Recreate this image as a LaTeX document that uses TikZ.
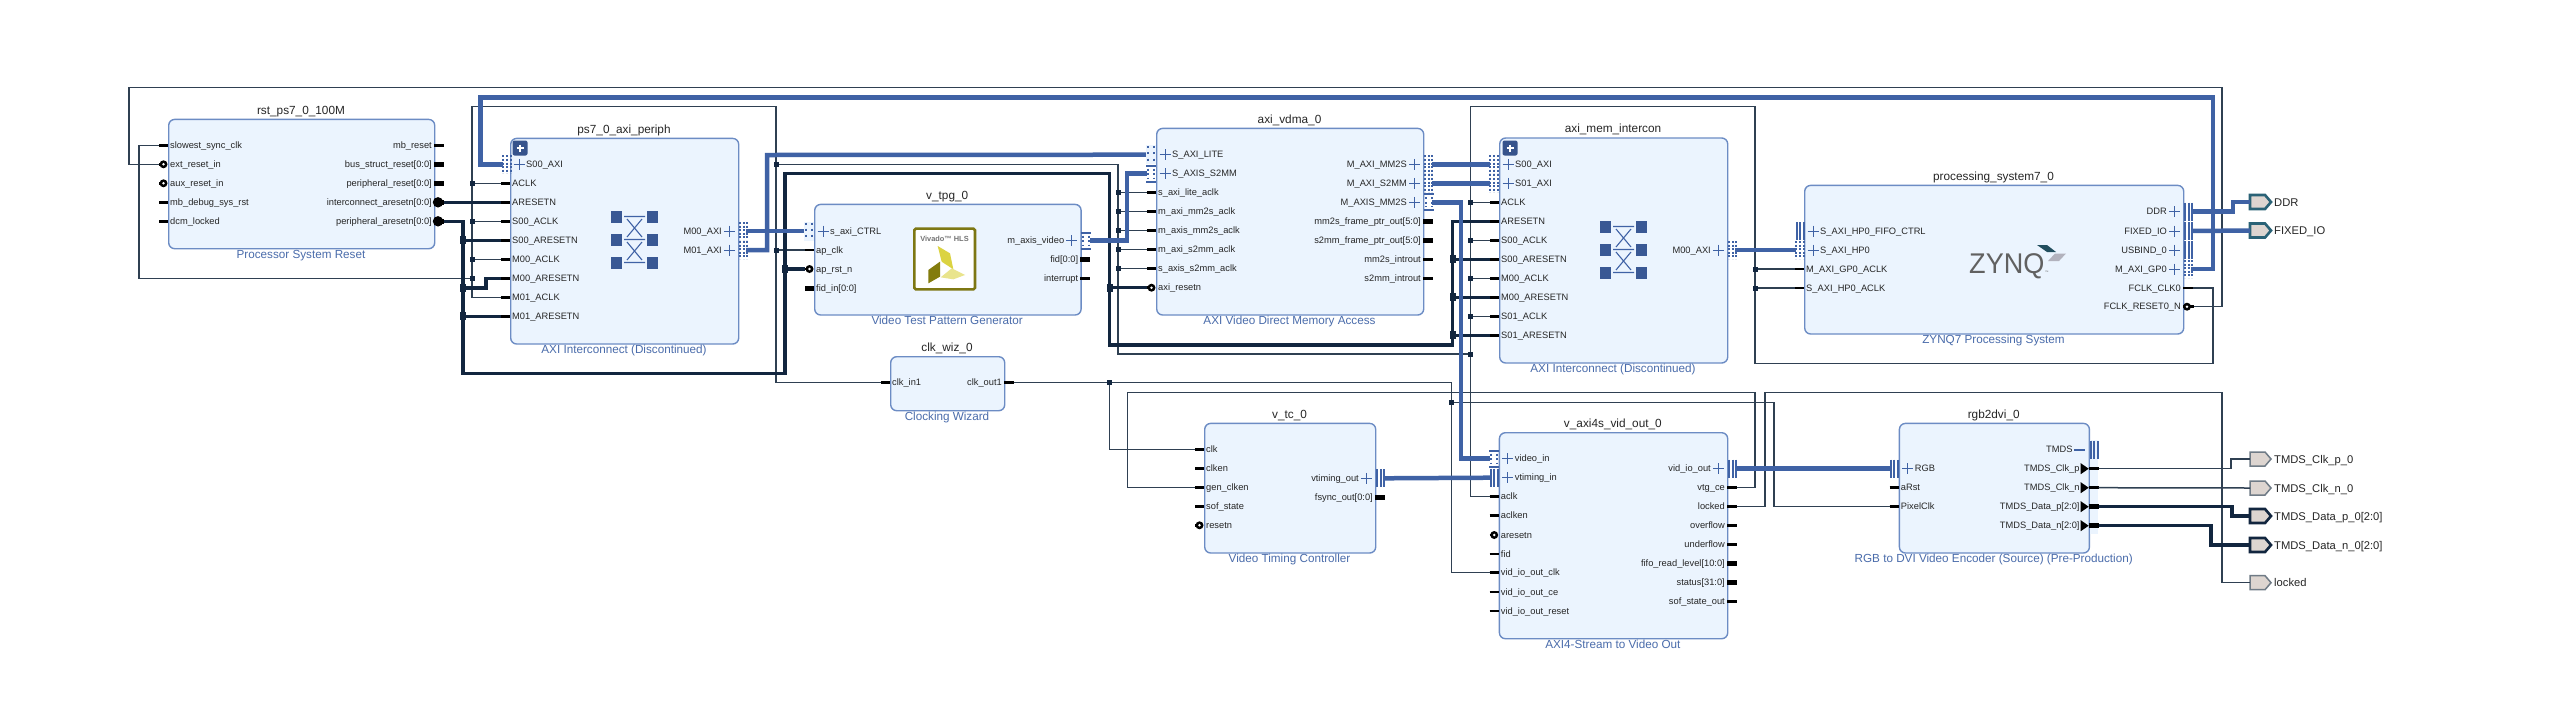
\documentclass[tikz,border=0pt]{standalone}
\usepackage{fontspec}
\setmainfont{Liberation Sans}
\usepackage{graphicx}
\definecolor{blkfill}{HTML}{EBF4FE}
\definecolor{blkline}{HTML}{6C8CC4}
\definecolor{subcol}{HTML}{4A6CAB}
\definecolor{buscol}{HTML}{3F62A5}
\definecolor{wirecol}{HTML}{2F4052}
\definecolor{rstcol}{HTML}{12263F}
\definecolor{extfill}{HTML}{DDD5D0}
\definecolor{teal}{HTML}{2A6276}
\definecolor{extgrey}{HTML}{6F7B86}
\tikzset{
 x=1pt,y=-1pt,
 wirepath/.style={draw=wirecol,line width=1.5pt},
 rstpath/.style={draw=rstcol,line width=3.4pt},
 buspath/.style={draw=buscol,line width=4.5pt},
 blockbox/.style={draw=blkline,fill=blkfill,line width=1.4pt,rounded corners=6pt,inner sep=0pt,anchor=north west},
 plabel/.style={inner sep=0pt,font=\fontsize{9.3}{10}\selectfont,text=black!85},
 titlelabel/.style={inner sep=0pt,font=\fontsize{11.8}{13}\selectfont,text=black!85,anchor=base},
 sublabel/.style={inner sep=0pt,font=\fontsize{11.7}{13}\selectfont,text=subcol,anchor=base},
 extlabel/.style={inner sep=0pt,font=\fontsize{11.2}{13}\selectfont,text=black!85,anchor=base west},
 jsmall/.style={fill=rstcol,draw=none,minimum size=5pt,inner sep=0pt},
 jbig/.style={fill=rstcol,draw=none,minimum width=6pt,minimum height=8pt,inner sep=0pt},
 stubline/.style={draw=black,line width=2.6pt},
 stubvec/.style={draw=black,line width=5pt},
}
% name x0 y0 x1 y1 title subtitle
\newcommand{\blockdraw}[7]{%
 \node[blockbox,minimum width={(#4-#2)*1pt},minimum height={(#5-#3)*1pt}] (#1) at (#2,#3) {};
 \node[titlelabel] (#1T) at ({(#2+#4)/2},{#3-4.5}) {#6};
 \node[sublabel] (#1S) at ({(#2+#4)/2},{#5+10}) {#7};
}
% plain ports: name edge y label
\newcommand{\pL}[4]{\coordinate (#1) at ({#2-9},#3);\draw[stubline] (#1)--(#2,#3);
 \node[plabel,anchor=base west] (#1t) at ({#2+2},{#3+3.2}) {#4};}
\newcommand{\pLv}[4]{\coordinate (#1) at ({#2-9},#3);\draw[stubvec] (#1)--(#2,#3);
 \node[plabel,anchor=base west] (#1t) at ({#2+2},{#3+3.2}) {#4};}
\newcommand{\pLb}[4]{\coordinate (#1) at ({#2-9},#3);\draw[stubline] (#1)--({#2-4},#3);
 \fill[black] ({#2-4.5},#3) circle (4pt);\fill[white] ({#2-4.5},#3) circle (1.4pt);
 \node[plabel,anchor=base west] (#1t) at ({#2+2},{#3+3.2}) {#4};}
\newcommand{\pR}[4]{\coordinate (#1) at ({#2+10},#3);\draw[stubline] (#2,#3)--(#1);
 \node[plabel,anchor=base east] (#1t) at ({#2-2},{#3+3.2}) {#4};}
\newcommand{\pRv}[4]{\coordinate (#1) at ({#2+10},#3);\draw[stubvec] (#2,#3)--(#1);
 \node[plabel,anchor=base east] (#1t) at ({#2-2},{#3+3.2}) {#4};}
\newcommand{\pRd}[4]{\coordinate (#1) at ({#2+10},#3);\draw[stubvec] (#2,#3)--(#1);
 \fill[black] ({#2+4},#3) circle (5.2pt);
 \node[plabel,anchor=base east] (#1t) at ({#2-2},{#3+3.2}) {#4};}
\newcommand{\pRb}[4]{\coordinate (#1) at ({#2+11},#3);\draw[stubline] (#2,#3)--(#1);
 \fill[black] ({#2+4},#3) circle (4pt);\fill[white] ({#2+4},#3) circle (1.4pt);
 \node[plabel,anchor=base east] (#1t) at ({#2-2},{#3+3.2}) {#4};}
% output triangle inside the block edge, thin or vector stub
\newcommand{\pRa}[5]{\coordinate (#1) at ({#2+10},#3);
 \fill[black] ({#2-8},{#3-5.5})--(#2,#3)--({#2-8},{#3+5.5})--cycle;
 \draw[#5] (#2,#3)--(#1);
 \node[plabel,anchor=base east] (#1t) at ({#2-9},{#3+3.2}) {#4};}
% bus pins with plus sign
\newcommand{\bL}[4]{\draw[draw=buscol,line width=1pt] ({#2+3.5},#3)--({#2+14.5},#3) ({#2+9},{#3-5.5})--({#2+9},{#3+5.5});
 \node[plabel,anchor=base west] (#1t) at ({#2+16},{#3+3.2}) {#4};}
\newcommand{\bR}[4]{\draw[draw=buscol,line width=1pt] ({#2-3.5},#3)--({#2-14.5},#3) ({#2-9},{#3-5.5})--({#2-9},{#3+5.5});
 \node[plabel,anchor=base east] (#1t) at ({#2-16},{#3+3.2}) {#4};}
% bus connectors: left edge x, y
\newcommand{\cDots}[2]{\foreach \ox in {1.2,5,8.8}{\draw[draw=buscol,line width=2pt,dash pattern=on 2pt off 1.6pt] ({#1+\ox},{#2-9})--({#1+\ox},{#2+9});}}
\newcommand{\cWide}[2]{\fill[blkfill] (#1,{#2-9.5}) rectangle ({#1+10},{#2+9.5});
 \foreach \ox in {2,8}{\draw[draw=buscol,line width=2pt,dash pattern=on 2pt off 4.2pt] ({#1+\ox},{#2-8.5})--({#1+\ox},{#2+9});}}
\newcommand{\cBars}[2]{\foreach \ox in {1.5,5,8.5}{\draw[draw=buscol,line width=2pt] ({#1+\ox},{#2-9})--({#1+\ox},{#2+9});}}
\newcommand{\cAxis}[2]{\draw[draw=buscol,line width=2pt] (#1,{#2-8})--({#1+10},{#2-8}) (#1,{#2+8})--({#1+10},{#2+8});
 \foreach \ox in {2,8}{\draw[draw=buscol,line width=2pt,dash pattern=on 2pt off 2.5pt] ({#1+\ox},{#2-5})--({#1+\ox},{#2+5});}}
% interconnect glyph
\newcommand{\xglyph}[2]{%
 \foreach \ox in {0,36}{\foreach \oy in {0,23,46}{\fill[buscol!90!black] ({#1+\ox},{#2+\oy}) rectangle ({#1+\ox+11},{#2+\oy+11.5});}}
 \draw[draw=buscol,line width=1.1pt]
  ({#1+13},{#2+5.5})--({#1+34},{#2+5.5}) ({#1+13},{#2+28.5})--({#1+34},{#2+28.5}) ({#1+13},{#2+51.5})--({#1+34},{#2+51.5})
  ({#1+16},{#2+8})--({#1+31},{#2+26}) ({#1+31},{#2+8})--({#1+16},{#2+26})
  ({#1+16},{#2+31})--({#1+31},{#2+49}) ({#1+31},{#2+31})--({#1+16},{#2+49});}
% expand button
\newcommand{\plusbtn}[2]{\fill[buscol!85!black,rounded corners=2pt] ({#1-7.5},{#2-7.5}) rectangle ({#1+7.5},{#2+7.5});
 \draw[white,line width=1.6pt] ({#1-3.5},#2)--({#1+3.5},#2) (#1,{#2-3.5})--(#1,{#2+3.5});}
% external pin: name x y label colour width
\newcommand{\extpin}[6]{\coordinate (#1) at (#2,#3);
 \draw[draw=#5,fill=extfill,line width=#6] (#2,{#3-7})--({#2+15},{#3-7})--({#2+21},#3)--({#2+15},{#3+7})--(#2,{#3+7})--cycle;
 \node[extlabel] (#1t) at ({#2+24},{#3+4}) {#4};}
\begin{document}
\begin{tikzpicture}
\useasboundingbox (0,0) rectangle (2550,724);
\fill[white] (0,0) rectangle (2550,724);
% ---- blocks
\blockdraw{rst}{168}{118.7}{434}{248}{rst\_ps7\_0\_100M}{Processor System Reset}
\blockdraw{per}{510}{137.7}{738}{343.3}{ps7\_0\_axi\_periph}{AXI Interconnect (Discontinued)}
\blockdraw{tpg}{814}{203.7}{1080.4}{314.3}{v\_tpg\_0}{Video Test Pattern Generator}
\blockdraw{vdma}{1156}{127.7}{1423}{314.3}{axi\_vdma\_0}{AXI Video Direct Memory Access}
\blockdraw{mem}{1499}{137.3}{1727}{362.3}{axi\_mem\_intercon}{AXI Interconnect (Discontinued)}
\blockdraw{ps}{1804}{184.7}{2183}{333.3}{processing\_system7\_0}{ZYNQ7 Processing System}
\blockdraw{wiz}{890}{356}{1004}{410}{clk\_wiz\_0}{Clocking Wizard}
\blockdraw{vtc}{1204}{422.7}{1375}{552.3}{v\_tc\_0}{Video Timing Controller}
\blockdraw{vout}{1498.7}{432}{1727}{638}{v\_axi4s\_vid\_out\_0}{AXI4-Stream to Video Out}
\blockdraw{rgb}{1898.7}{422.7}{2088.7}{552.3}{rgb2dvi\_0}{RGB to DVI Video Encoder (Source) (Pre-Production)}
\fill[blkfill] (2089.5,440) rectangle (2098,534);
% ---- glyphs
\plusbtn{520}{148}
\plusbtn{1510}{148}
\xglyph{611}{211}
\xglyph{1600}{221}
% Vivado HLS logo
\begin{scope}[shift={(900,220)},x=0.3333pt,y=-0.3333pt]
 \draw[draw=olive!85!black,fill=white,line width=2.6pt,rounded corners=1.5pt] (43,26) rectangle (225,208);
 \fill[yellow!55!olive!70!white] (113,78)--(150,100)--(160,148)--(125,125)--cycle;
 \fill[olive!90!black] (85,150)--(120,125)--(120,170)--(85,190)--cycle;
 \fill[yellow!50!olive!40!white] (122,172)--(155,145)--(195,165)--(160,178)--cycle;
\end{scope}
\node[inner sep=0pt,font=\fontsize{7.4}{8}\selectfont\bfseries,text=black!55] (hlstext) at (944.5,238.5) {Vivado™ HLS};
% ZYNQ logo
\node[inner sep=0pt,anchor=base west,font=\fontsize{28.5}{30}\selectfont,text=black!62] (zynqtext) at (1969,273) {\scalebox{0.95}[1]{ZYNQ}};
\node[inner sep=0pt,anchor=base west,font=\fontsize{3.5}{4}\selectfont,text=black!62] (zynqtm) at (2045,273.5) {™};
\fill[teal!80!black] (2037,245)--(2047,245)--(2056,252)--(2047,252)--cycle;
\fill[black!20!blue!10!gray!55] (2048,261)--(2055,253.5)--(2066,253.5)--(2059,261)--cycle;
% ---- ports
\pL{rclk}{168}{145.3}{slowest\_sync\_clk}
\pLb{rext}{168}{164.3}{ext\_reset\_in}
\pLb{raux}{168}{183.3}{aux\_reset\_in}
\pL{rdbg}{168}{202.3}{mb\_debug\_sys\_rst}
\pL{rdcm}{168}{221.3}{dcm\_locked}
\pR{rmb}{434}{145.3}{mb\_reset}
\pRv{rbus}{434}{164.3}{bus\_struct\_reset[0:0]}
\pRv{rper}{434}{183.3}{peripheral\_reset[0:0]}
\pRd{rica}{434}{202.3}{interconnect\_aresetn[0:0]}
\pRd{rpea}{434}{221.3}{peripheral\_aresetn[0:0]}
%
\bL{pS}{510}{164.3}{S00\_AXI}
\coordinate (pSb) at (503,164.3);
\pL{paclk}{510}{183.3}{ACLK}
\pL{pares}{510}{202.3}{ARESETN}
\pL{ps0clk}{510}{221.3}{S00\_ACLK}
\pL{ps0res}{510}{240.3}{S00\_ARESETN}
\pL{pm0clk}{510}{259.3}{M00\_ACLK}
\pL{pm0res}{510}{278.3}{M00\_ARESETN}
\pL{pm1clk}{510}{297.3}{M01\_ACLK}
\pL{pm1res}{510}{316.3}{M01\_ARESETN}
\bR{pM0}{738}{231}{M00\_AXI}
\bR{pM1}{738}{250}{M01\_AXI}
\coordinate (pM0b) at (746,231);
\coordinate (pM1b) at (746,250);
%
\bL{tS}{814}{231}{s\_axi\_CTRL}
\coordinate (tSb) at (806,231);
\pL{tclk}{814}{250}{ap\_clk}
\pLb{trst}{814}{269}{ap\_rst\_n}
\pLv{tfid}{814}{288}{fid\_in[0:0]}
\bR{tM}{1080.4}{240.7}{m\_axis\_video}
\coordinate (tMb) at (1090,240.7);
\pRv{tfo}{1080.4}{259.7}{fid[0:0]}
\pR{tint}{1080.4}{278.7}{interrupt}
%
\bL{vL}{1156}{154.7}{S\_AXI\_LITE}
\bL{vA}{1156}{173.7}{S\_AXIS\_S2MM}
\coordinate (vLb) at (1147,154.7);
\coordinate (vAb) at (1147,173.7);
\pL{vc1}{1156}{192.7}{s\_axi\_lite\_aclk}
\pL{vc2}{1156}{211.7}{m\_axi\_mm2s\_aclk}
\pL{vc3}{1156}{230.7}{m\_axis\_mm2s\_aclk}
\pL{vc4}{1156}{249.7}{m\_axi\_s2mm\_aclk}
\pL{vc5}{1156}{268.7}{s\_axis\_s2mm\_aclk}
\pLb{vrst}{1156}{287.7}{axi\_resetn}
\bR{vMa}{1423}{164.3}{M\_AXI\_MM2S}
\bR{vMb}{1423}{183.3}{M\_AXI\_S2MM}
\bR{vMc}{1423}{202.3}{M\_AXIS\_MM2S}
\coordinate (vMab) at (1432,164.3);
\coordinate (vMbb) at (1432,183.3);
\coordinate (vMcb) at (1432,202.3);
\pRv{vf1}{1423}{221.3}{mm2s\_frame\_ptr\_out[5:0]}
\pRv{vf2}{1423}{240.3}{s2mm\_frame\_ptr\_out[5:0]}
\pR{vi1}{1423}{259.3}{mm2s\_introut}
\pR{vi2}{1423}{278.3}{s2mm\_introut}
%
\bL{mS0}{1499}{164.3}{S00\_AXI}
\bL{mS1}{1499}{183.3}{S01\_AXI}
\coordinate (mS0b) at (1490,164.3);
\coordinate (mS1b) at (1490,183.3);
\pL{maclk}{1499}{202.3}{ACLK}
\pL{mares}{1499}{221.3}{ARESETN}
\pL{ms0clk}{1499}{240.3}{S00\_ACLK}
\pL{ms0res}{1499}{259.3}{S00\_ARESETN}
\pL{mm0clk}{1499}{278.3}{M00\_ACLK}
\pL{mm0res}{1499}{297.3}{M00\_ARESETN}
\pL{ms1clk}{1499}{316.3}{S01\_ACLK}
\pL{ms1res}{1499}{335.3}{S01\_ARESETN}
\bR{mM}{1727}{250}{M00\_AXI}
\coordinate (mMb) at (1735,250);
%
\bL{zF}{1804}{231}{S\_AXI\_HP0\_FIFO\_CTRL}
\bL{zH}{1804}{250}{S\_AXI\_HP0}
\coordinate (zHb) at (1796,250);
\pL{zgclk}{1804}{269}{M\_AXI\_GP0\_ACLK}
\pL{zhclk}{1804}{288}{S\_AXI\_HP0\_ACLK}
\bR{zD}{2183}{211.7}{DDR}
\bR{zX}{2183}{231}{FIXED\_IO}
\bR{zU}{2183}{250}{USBIND\_0}
\bR{zG}{2183}{269}{M\_AXI\_GP0}
\coordinate (zDb) at (2191,211.7);
\coordinate (zXb) at (2191,231);
\coordinate (zGb) at (2191,269);
\pR{zclk}{2183}{288}{FCLK\_CLK0}
\pRb{zrst}{2183}{306.7}{FCLK\_RESET0\_N}
%
\pL{wi}{890}{382.7}{clk\_in1}
\pR{wo}{1004}{382.7}{clk\_out1}
%
\pL{cclk}{1204}{449.3}{clk}
\pL{ccen}{1204}{468.3}{clken}
\pL{cgen}{1204}{487.3}{gen\_clken}
\pL{csof}{1204}{506.3}{sof\_state}
\pLb{crst}{1204}{525.3}{resetn}
\bR{cT}{1375}{478.3}{vtiming\_out}
\coordinate (cTb) at (1383,478.3);
\pRv{cfs}{1375}{497.3}{fsync\_out[0:0]}
%
\bL{oV}{1498.7}{458.7}{video\_in}
\bL{oT}{1498.7}{477.7}{vtiming\_in}
\coordinate (oVb) at (1490,458.7);
\coordinate (oTb) at (1490,477.7);
\pL{oclk}{1498.7}{496.7}{aclk}
\pL{ocen}{1498.7}{515.7}{aclken}
\pLb{orst}{1498.7}{535}{aresetn}
\pL{ofid}{1498.7}{554}{fid}
\pL{ovc}{1498.7}{572.7}{vid\_io\_out\_clk}
\pL{ove}{1498.7}{592}{vid\_io\_out\_ce}
\pL{ovr}{1498.7}{611}{vid\_io\_out\_reset}
\bR{oM}{1727}{468.7}{vid\_io\_out}
\coordinate (oMb) at (1735,468.7);
\pR{ovtg}{1727}{487.7}{vtg\_ce}
\pR{olock}{1727}{506.7}{locked}
\pR{oof}{1727}{525.7}{overflow}
\pR{ouf}{1727}{544.7}{underflow}
\pRv{ofl}{1727}{563.7}{fifo\_read\_level[10:0]}
\pRv{ost}{1727}{582.7}{status[31:0]}
\pR{oso}{1727}{601.7}{sof\_state\_out}
%
\bL{gR}{1898.7}{468.7}{RGB}
\coordinate (gRb) at (1890,468.7);
\pL{gar}{1898.7}{487.3}{aRst}
\pL{gpc}{1898.7}{506.7}{PixelClk}
\draw[draw=buscol,line width=1.6pt] (2074,449.7)--(2085,449.7);
\node[plabel,anchor=base east] (gTt) at (2072.7,452.9) {TMDS};
\pRa{gcp}{2088.7}{468.7}{TMDS\_Clk\_p}{stubline}
\pRa{gcn}{2088.7}{487.7}{TMDS\_Clk\_n}{stubline}
\pRa{gdp}{2088.7}{506.7}{TMDS\_Data\_p[2:0]}{stubvec}
\pRa{gdn}{2088.7}{525.7}{TMDS\_Data\_n[2:0]}{stubvec}
% ---- external pins
\extpin{xddr}{2250}{202}{DDR}{teal}{2.6pt}
\extpin{xfix}{2250}{230.5}{FIXED\_IO}{teal}{2.6pt}
\extpin{xcp}{2250}{459}{TMDS\_Clk\_p\_0}{extgrey}{1.5pt}
\extpin{xcn}{2250}{488}{TMDS\_Clk\_n\_0}{extgrey}{1.5pt}
\extpin{xdp}{2250}{516}{TMDS\_Data\_p\_0[2:0]}{rstcol}{2.6pt}
\extpin{xdn}{2250}{545}{TMDS\_Data\_n\_0[2:0]}{rstcol}{2.6pt}
\extpin{xlk}{2250}{582.7}{locked}{extgrey}{1.5pt}
% ---- routing points and junctions
\coordinate (a1) at (129,87.7);
\coordinate (a2) at (2222,87.7);
\coordinate (b1) at (138.8,278.3);
\coordinate (j1) at (472,278.3);
\coordinate (j2) at (472,183.3);
\coordinate (j3) at (472,221.3);
\coordinate (j4) at (472,259.3);
\coordinate (c1) at (472,106.7);
\coordinate (c2) at (776,106.7);
\coordinate (j5) at (776,164.3);
\coordinate (j6) at (776,250);
\coordinate (c3) at (776,382.7);
\coordinate (d1) at (1118,164.3);
\coordinate (d2) at (1118,354);
\coordinate (j7) at (1118,192.7);
\coordinate (j8) at (1118,211.7);
\coordinate (j9) at (1118,230.7);
\coordinate (j10) at (1118,249.7);
\coordinate (j11) at (1118,268.7);
\coordinate (j12) at (1470.5,354);
\coordinate (e1) at (1470.5,106.7);
\coordinate (e2) at (1755,106.7);
\coordinate (e3) at (1755,363.7);
\coordinate (e4) at (2213,363.7);
\coordinate (j13) at (1470.5,202.3);
\coordinate (j14) at (1470.5,240.3);
\coordinate (j15) at (1470.5,278.3);
\coordinate (j16) at (1470.5,316.3);
\coordinate (j17) at (1755,269);
\coordinate (j18) at (1755,288);
\coordinate (j19) at (1109.5,382.7);
\coordinate (f1) at (1451.5,382.7);
\coordinate (j20) at (1451.5,402.3);
\coordinate (f2) at (1774,402.3);
\coordinate (g1) at (1127.7,392.3);
\coordinate (g2) at (1755,392.3);
\coordinate (h1) at (1765,392.3);
\coordinate (h2) at (2222,392.3);
\coordinate (k1) at (463,373.3);
\coordinate (k2) at (785,373.3);
\coordinate (k3) at (785,173.5);
\coordinate (k4) at (1109.5,173.5);
\coordinate (k5) at (1109.5,345);
\coordinate (k6) at (1452.5,345);
\coordinate (k7) at (1452.5,221.3);
\coordinate (t1) at (463,240.3);
\coordinate (t2) at (463,288);
\coordinate (t3) at (463,316.3);
\coordinate (t4) at (486,288);
\coordinate (t5) at (486,278.3);
\coordinate (t6) at (785,269);
\coordinate (t7) at (1109.5,287.7);
\coordinate (t8) at (1452.5,259.3);
\coordinate (t9) at (1452.5,297.3);
\coordinate (t10) at (1452.5,335.3);
\coordinate (u1) at (2231,459);
\coordinate (u2) at (2232,516);
\coordinate (u3) at (2211,545);
\coordinate (n1) at (2213,97.3);
\coordinate (n2) at (480.7,97.3);
\coordinate (n3) at (767,155);
\coordinate (n4) at (1127,173.7);
\coordinate (n5) at (1461,458.7);
\coordinate (n6) at (2233,202);
% ---- thin wires
\draw[wirepath] (rext) -| (a1) -- (a2) |- (zrst);
\draw[wirepath] (rclk) -| (b1) -- (j1);
\draw[wirepath] (pm1clk) -| (c1) -- (c2) -- (c3) -- (wi);
\draw[wirepath] (j2) -- (paclk);
\draw[wirepath] (j3) -- (ps0clk);
\draw[wirepath] (j4) -- (pm0clk);
\draw[wirepath] (j5) -- (d1) -- (d2) -- (j12);
\draw[wirepath] (j6) -- (tclk);
\draw[wirepath] (j7) -- (vc1);
\draw[wirepath] (j8) -- (vc2);
\draw[wirepath] (j9) -- (vc3);
\draw[wirepath] (j10) -- (vc4);
\draw[wirepath] (j11) -- (vc5);
\draw[wirepath] (oclk) -| (e1) -- (e2) -- (e3) -- (e4) |- (zclk);
\draw[wirepath] (j13) -- (maclk);
\draw[wirepath] (j14) -- (ms0clk);
\draw[wirepath] (j15) -- (mm0clk);
\draw[wirepath] (j16) -- (ms1clk);
\draw[wirepath] (j17) -- (zgclk);
\draw[wirepath] (j18) -- (zhclk);
\draw[wirepath] (wo) -- (f1) |- (ovc);
\draw[wirepath] (j19) |- (cclk);
\draw[wirepath] (j20) -- (f2) |- (gpc);
\draw[wirepath] (cgen) -| (g1) -- (g2) |- (ovtg);
\draw[wirepath] (olock) -| (h1) -- (h2) |- (xlk);
\draw[wirepath] (gcp) -| (u1) -- (xcp);
\draw[wirepath] (gcn) -- (xcn);
% ---- reset wires
\draw[rstpath] (rica) -- (pares);
\draw[rstpath] (rpea) -| (k1) -- (k2) -- (k3) -- (k4) -- (k5) -- (k6) -- (k7) -- (mares);
\draw[rstpath] (t1) -- (ps0res);
\draw[rstpath] (t2) -- (t4) -- (t5) -- (pm0res);
\draw[rstpath] (t3) -- (pm1res);
\draw[rstpath] (t6) -- (trst);
\draw[rstpath] (t7) -- (vrst);
\draw[rstpath] (t8) -- (ms0res);
\draw[rstpath] (t9) -- (mm0res);
\draw[rstpath] (t10) -- (ms1res);
\draw[rstpath] (gdp) -| (u2) -- (xdp);
\draw[rstpath] (gdn) -| (u3) -- (xdn);
% ---- bus wires
\draw[buspath] (zGb) -| (n1) -- (n2) |- (pSb);
\draw[buspath] (pM0b) -- (tSb);
\draw[buspath] (pM1b) -| (n3) -- (vLb);
\draw[buspath] (tMb) -| (n4) -- (vAb);
\draw[buspath] (vMab) -- (mS0b);
\draw[buspath] (vMbb) -- (mS1b);
\draw[buspath] (vMcb) -| (n5) -- (oVb);
\draw[buspath] (cTb) -- (oTb);
\draw[buspath] (oMb) -- (gRb);
\draw[buspath] (mMb) -- (zHb);
\draw[buspath] (zDb) -| (n6) -- (xddr);
\draw[buspath] (zXb) -- (xfix);
% ---- bus connectors
\cDots{502}{164.3}
\cDots{738.5}{231}
\cDots{738.5}{250}
\cWide{804}{231}
\cAxis{1080.5}{240.7}
\cWide{1146}{154.7}
\cAxis{1146}{173.7}
\cDots{1423.5}{164.3}
\cDots{1423.5}{183.3}
\cAxis{1423.5}{202.3}
\cDots{1489}{164.3}
\cDots{1489}{183.3}
\cDots{1727.5}{250}
\cBars{1795}{231}
\cDots{1795}{250}
\cBars{2183.5}{211.7}
\cBars{2183.5}{231}
\cBars{2183.5}{250}
\cDots{2183.5}{269}
\cBars{1375.5}{478.3}
\cAxis{1489}{458.7}
\cBars{1489}{477.7}
\cBars{1727.5}{468.7}
\cBars{1889}{468.7}
\cBars{2089}{449.7}
% ---- junction markers
\foreach \n in {j1,j2,j3,j4,j5,j6,j7,j8,j9,j10,j11,j12,j13,j14,j15,j16,j17,j18,j19,j20}{\node[jsmall] (m\n) at (\n) {};}
\foreach \n in {t1,t2,t3,t6,t7,t8,t9,t10}{\node[jbig] (m\n) at (\n) {};}
\end{tikzpicture}
\end{document}
